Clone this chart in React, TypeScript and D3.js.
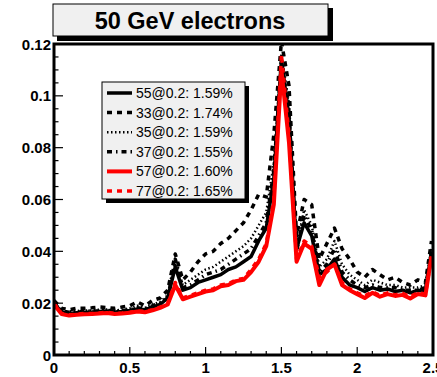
import * as d3 from 'd3';

// eta bins (bin centres)
const ETA = [
  0.0, 0.05, 0.1, 0.15, 0.2, 0.25, 0.3, 0.35, 0.4, 0.45,
  0.5, 0.55, 0.6, 0.65, 0.7, 0.75, 0.8, 0.85, 0.9, 0.95,
  1.0, 1.05, 1.1, 1.15, 1.2, 1.25, 1.3, 1.35, 1.4, 1.45,
  1.5, 1.55, 1.6, 1.65, 1.7, 1.75, 1.8, 1.85, 1.9, 1.95,
  2.0, 2.05, 2.1, 2.15, 2.2, 2.25, 2.3, 2.35, 2.4, 2.45, 2.49,
];

const RES_55 = [
  0.020, 0.0165, 0.016, 0.0163, 0.0165, 0.0166, 0.0168, 0.017, 0.0166, 0.0168,
  0.0172, 0.0178, 0.0175, 0.0185, 0.0195, 0.022, 0.034, 0.025, 0.026, 0.028,
  0.029, 0.030, 0.031, 0.033, 0.034, 0.036, 0.038, 0.044, 0.049, 0.068,
  0.114, 0.092, 0.041, 0.051, 0.046, 0.031, 0.033, 0.037, 0.030, 0.027,
  0.026, 0.0245, 0.026, 0.025, 0.0255, 0.0245, 0.025, 0.024, 0.025, 0.0245, 0.040,
];
const RES_33 = [
  0.021, 0.018, 0.0175, 0.018, 0.018, 0.0182, 0.0185, 0.0183, 0.018, 0.0185,
  0.019, 0.0205, 0.019, 0.021, 0.022, 0.025, 0.039, 0.029, 0.032, 0.036,
  0.039, 0.040, 0.043, 0.045, 0.048, 0.051, 0.056, 0.062, 0.061, 0.085,
  0.121, 0.104, 0.046, 0.060, 0.058, 0.037, 0.043, 0.049, 0.041, 0.037,
  0.032, 0.030, 0.033, 0.031, 0.029, 0.030, 0.028, 0.027, 0.029, 0.028, 0.044,
];
const RES_35 = [
  0.0205, 0.017, 0.0168, 0.017, 0.0172, 0.0172, 0.0175, 0.0176, 0.0172, 0.0175,
  0.018, 0.019, 0.0182, 0.0195, 0.0205, 0.023, 0.036, 0.027, 0.029, 0.031,
  0.033, 0.034, 0.036, 0.038, 0.040, 0.042, 0.045, 0.050, 0.055, 0.074,
  0.116, 0.097, 0.042, 0.056, 0.050, 0.034, 0.037, 0.044, 0.035, 0.031,
  0.029, 0.027, 0.029, 0.028, 0.027, 0.027, 0.026, 0.026, 0.026, 0.027, 0.041,
];
const RES_37 = [
  0.020, 0.0168, 0.0165, 0.0167, 0.0168, 0.017, 0.017, 0.0172, 0.0168, 0.017,
  0.0175, 0.0182, 0.0178, 0.019, 0.020, 0.022, 0.037, 0.026, 0.027, 0.029,
  0.031, 0.032, 0.033, 0.035, 0.037, 0.039, 0.041, 0.046, 0.051, 0.071,
  0.113, 0.094, 0.040, 0.054, 0.048, 0.032, 0.035, 0.041, 0.032, 0.029,
  0.027, 0.026, 0.027, 0.026, 0.026, 0.026, 0.025, 0.025, 0.025, 0.026, 0.040,
];
const RES_77 = [
  0.020, 0.016, 0.0155, 0.0158, 0.016, 0.016, 0.0162, 0.0165, 0.016, 0.0162,
  0.0165, 0.017, 0.0168, 0.0175, 0.0185, 0.020, 0.028, 0.022, 0.023, 0.024,
  0.025, 0.0255, 0.027, 0.0275, 0.029, 0.0295, 0.033, 0.037, 0.043, 0.060,
  0.116, 0.085, 0.037, 0.044, 0.042, 0.030, 0.032, 0.035, 0.028, 0.0255,
  0.024, 0.0228, 0.0245, 0.023, 0.024, 0.0232, 0.0238, 0.0225, 0.024, 0.0235, 0.038,
];
const RES_57 = [
  0.0195, 0.0158, 0.0152, 0.0155, 0.0157, 0.0158, 0.016, 0.0162, 0.0158, 0.016,
  0.0163, 0.0168, 0.0165, 0.0172, 0.0182, 0.0195, 0.027, 0.0215, 0.0225, 0.0235,
  0.0245, 0.025, 0.0265, 0.027, 0.0285, 0.029, 0.032, 0.036, 0.042, 0.058,
  0.110, 0.082, 0.036, 0.043, 0.041, 0.027, 0.033, 0.035, 0.027, 0.025,
  0.0235, 0.022, 0.024, 0.0225, 0.0235, 0.0228, 0.0232, 0.0218, 0.0235, 0.023, 0.038,
];

const LEGEND_LABELS = [
  '55@0.2: 1.59%',
  '33@0.2: 1.74%',
  '35@0.2: 1.59%',
  '37@0.2: 1.55%',
  '57@0.2: 1.60%',
  '77@0.2: 1.65%',
];

const Y_TICKS = [0, 0.02, 0.04, 0.06, 0.08, 0.1, 0.12];
const X_TICKS = [0, 0.5, 1, 1.5, 2, 2.5];

const SERIES = [
  { label: LEGEND_LABELS[0], values: RES_55, color: '#000', dash: 'none', width: 3.5 },
  { label: LEGEND_LABELS[1], values: RES_33, color: '#000', dash: '5 5', width: 3.5 },
  { label: LEGEND_LABELS[2], values: RES_35, color: '#000', dash: '1.5 2.5', width: 2.5 },
  { label: LEGEND_LABELS[3], values: RES_37, color: '#000', dash: '5 4 1.5 4', width: 3.5 },
  { label: LEGEND_LABELS[4], values: RES_57, color: '#ff0000', dash: 'none', width: 4 },
  { label: LEGEND_LABELS[5], values: RES_77, color: '#ff0000', dash: '5 5', width: 3.5 },
];

// draw order: black ones, red dashed, red solid on top
const DRAW_ORDER = [1, 2, 3, 0, 5, 4];

const FONT = 'Liberation Sans, Arial, Helvetica, sans-serif';

export default function App() {
  const W = 437;
  const H = 377;
  const frame = { left: 54, right: 433, top: 44, bottom: 355 };

  const x = d3.scaleLinear().domain([0, 2.5]).range([frame.left, frame.right]);
  const y = d3.scaleLinear().domain([0, 0.12]).range([frame.bottom, frame.top]);

  const line = d3.line<number>()
    .x((_, i) => x(ETA[i]))
    .y(d => y(d));

  const xMinor = d3.range(0, 2.5001, 0.1);
  const yMinor = d3.range(0, 0.12001, 0.005);

  const leg = { x: 102, y: 82, w: 143, h: 117 };

  return (
    <svg width={W} height={H} style={{ position: 'absolute', left: 0, top: 0 }}>
      <defs>
        <clipPath id="plot-clip">
          <rect x={frame.left} y={frame.top} width={frame.right - frame.left} height={frame.bottom - frame.top} />
        </clipPath>
      </defs>
      <rect width={W} height={H} fill="#fff" />

      {/* curves */}
      <g clipPath="url(#plot-clip)">
        {DRAW_ORDER.map(i => {
          const s = SERIES[i];
          return (
            <path
              key={i}
              d={line(s.values) ?? ''}
              fill="none"
              stroke={s.color}
              strokeWidth={s.width}
              strokeDasharray={s.dash}
              strokeLinejoin="round"
            />
          );
        })}
      </g>

      {/* frame */}
      <rect
        x={frame.left} y={frame.top}
        width={frame.right - frame.left} height={frame.bottom - frame.top}
        fill="none" stroke="#000" strokeWidth={3}
      />

      {/* x ticks */}
      {xMinor.map((v, i) => (
        <line
          key={`xt${i}`}
          x1={x(v)} x2={x(v)}
          y1={frame.bottom} y2={frame.bottom - (i % 5 === 0 ? 8 : 4)}
          stroke="#000" strokeWidth={1.2}
        />
      ))}
      {X_TICKS.map(v => (
        <text
          key={`xl${v}`}
          x={x(v)} y={373}
          textAnchor="middle" fontSize={15} fontWeight="bold" fontFamily={FONT}
        >
          {v}
        </text>
      ))}

      {/* y ticks */}
      {yMinor.map((v, i) => (
        <line
          key={`yt${i}`}
          x1={frame.left} x2={frame.left + (i % 4 === 0 ? 9 : 4.5)}
          y1={y(v)} y2={y(v)}
          stroke="#000" strokeWidth={1.2}
        />
      ))}
      {Y_TICKS.map(v => (
        <text
          key={`yl${v}`}
          x={51} y={y(v)}
          textAnchor="end" dominantBaseline="central"
          fontSize={15} fontWeight="bold" fontFamily={FONT}
        >
          {v}
        </text>
      ))}

      {/* title box */}
      <rect x={57} y={8} width={276} height={33} fill="#000" />
      <rect x={53} y={4} width={275} height={32} fill="#f0f0f0" stroke="#000" strokeWidth={1} />
      <text
        x={190} y={28.5}
        textAnchor="middle" fontSize={23.5} fontWeight="bold" fontFamily={FONT}
      >
        50 GeV electrons
      </text>

      {/* legend */}
      <rect x={leg.x + 4} y={leg.y + 4} width={leg.w} height={leg.h} fill="#000" />
      <rect x={leg.x} y={leg.y} width={leg.w} height={leg.h} fill="#f0f0f0" stroke="#000" strokeWidth={1} />
      {SERIES.map((s, i) => {
        const ry = leg.y + 11 + i * 19.6;
        return (
          <g key={`lg${i}`}>
            <line
              x1={leg.x + 5} x2={leg.x + 30} y1={ry} y2={ry}
              stroke={s.color} strokeWidth={s.width} strokeDasharray={s.dash}
            />
            <text
              x={leg.x + 34} y={ry}
              dominantBaseline="central" fontSize={14} fontFamily={FONT}
            >
              {s.label}
            </text>
          </g>
        );
      })}
    </svg>
  );
}
